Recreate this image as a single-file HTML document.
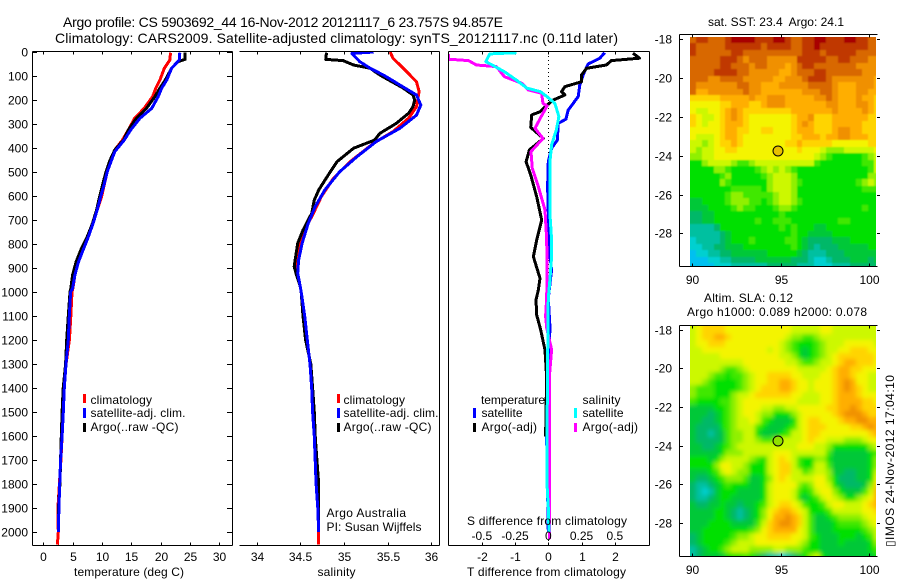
<!DOCTYPE html>
<html lang="en">
<head>
<meta charset="utf-8">
<title>Argo profile chart</title>
<style>
html,body{margin:0;padding:0;background:#fff;width:900px;height:580px;overflow:hidden}
svg{display:block}
text{font-family:"Liberation Sans",sans-serif;font-size:12px;fill:#000}
.ttl{font-size:14px}
</style>
</head>
<body>
<svg id="chart" xmlns="http://www.w3.org/2000/svg" width="900" height="580" viewBox="0 0 900 580">
<defs>
<clipPath id="clip1"><rect x="33" y="52" width="199" height="493"/></clipPath>
<clipPath id="clip2"><rect x="240" y="52" width="199" height="493"/></clipPath>
<clipPath id="clip3"><rect x="449" y="52" width="200" height="493"/></clipPath>
<clipPath id="clipm1"><rect x="690" y="37" width="186" height="230"/></clipPath>
<clipPath id="clipm2"><rect x="690" y="326" width="186" height="231"/></clipPath>
<filter id="soft1"><feGaussianBlur stdDeviation="0.8"/></filter>
<filter id="soft2"><feGaussianBlur stdDeviation="2"/></filter>
</defs>
<rect x="0" y="0" width="900" height="580" fill="#fff"/>

<text class="ttl" x="63" y="27" textLength="440">Argo profile: CS 5903692_44 16-Nov-2012 20121117_6 23.757S 94.857E</text>
<text class="ttl" x="55" y="43" textLength="563">Climatology: CARS2009. Satellite-adjusted climatology: synTS_20121117.nc (0.11d later)</text>

<g clip-path="url(#clipm1)"><g id="map1" filter="url(#soft1)"></g></g>
<g clip-path="url(#clipm2)"><g id="map2" filter="url(#soft2)"></g></g>
<g id="axes" shape-rendering="crispEdges"></g>
<g id="series1" clip-path="url(#clip1)" shape-rendering="crispEdges"></g>
<g id="series2" clip-path="url(#clip2)" shape-rendering="crispEdges"></g>
<line x1="548.5" y1="52" x2="548.5" y2="545" stroke="#000" stroke-width="1" stroke-dasharray="1 3" shape-rendering="crispEdges"/>
<g id="series3" clip-path="url(#clip3)" shape-rendering="crispEdges"></g>
<g id="labels"></g>

<text x="74" y="576" textLength="110">temperature (deg C)</text>
<text x="317.5" y="576" textLength="38">salinity</text>
<text x="467" y="576" textLength="159">T difference from climatology</text>
<text x="467" y="525" textLength="160">S difference from climatology</text>

<g>
<rect x="83" y="394" width="3" height="9" fill="#f00"/>
<text x="90.5" y="404" textLength="61.5">climatology</text>
<rect x="83" y="408" width="3" height="10" fill="#00f"/>
<text x="90.5" y="417" textLength="95">satellite-adj. clim.</text>
<rect x="83" y="423" width="3" height="9" fill="#000"/>
<text x="90.5" y="431" textLength="88">Argo(..raw -QC)</text>
</g>
<g>
<rect x="337" y="394" width="3" height="9" fill="#f00"/>
<text x="343.5" y="404" textLength="61.5">climatology</text>
<rect x="337" y="408" width="3" height="10" fill="#00f"/>
<text x="343.5" y="417" textLength="95">satellite-adj. clim.</text>
<rect x="337" y="423" width="3" height="9" fill="#000"/>
<text x="343.5" y="431" textLength="88">Argo(..raw -QC)</text>
</g>
<text x="326.5" y="517" textLength="79.5">Argo Australia</text>
<text x="326.5" y="531" textLength="95">PI: Susan Wijffels</text>

<g>
<text x="481" y="404" textLength="64">temperature</text>
<rect x="473" y="408" width="3" height="10" fill="#00f"/>
<text x="481.5" y="417" textLength="41">satellite</text>
<rect x="473" y="423" width="3" height="9" fill="#000"/>
<text x="481.5" y="431" textLength="55.5">Argo(-adj)</text>
<text x="582.5" y="404" textLength="38">salinity</text>
<rect x="574" y="408" width="3" height="10" fill="#0ff"/>
<text x="582.5" y="417" textLength="41">satellite</text>
<rect x="574" y="423" width="3" height="9" fill="#f0f"/>
<text x="582.5" y="431" textLength="55.5">Argo(-adj)</text>
</g>

<text x="708" y="26" textLength="136" xml:space="preserve">sat. SST: 23.4  Argo: 24.1</text>
<text x="704" y="302" textLength="89">Altim. SLA: 0.12</text>
<text x="687" y="316" textLength="180">Argo h1000: 0.089 h2000: 0.078</text>
<text transform="translate(894,547) rotate(-90)" textLength="172">▯IMOS 24-Nov-2012 17:04:10</text>
</svg>

<script>
// ---- temperature profile (depth m, deg C) ----
const tempClimDepth = [3,33,68,117,151,186,235,276,325,367,408,450,499,554,603,658,714,769,825,874,929,985,1000,1100,1200,1300,1400,1500,1600,1700,1800,1900,2000,2053];
const tempClim = [21.7,21.6,20.65,19.9,19.2,18.65,17.2,15.6,14.5,13.5,12.2,11.65,10.9,10.4,9.95,9.2,8.5,7.7,6.8,6.0,5.4,5.05,4.9,4.7,4.45,3.87,3.5,3.4,3.2,3.0,2.75,2.5,2.56,2.4];
const tempSatDepth = [3,33,68,117,151,186,235,276,325,367,415,450,499,554,603,658,714,769,825,874,929,985,1000,1100,1200,1300,1400,1500,1600,1700,1800,1900,2000];
const tempSat = [23.3,23.2,21.9,21.05,20.2,19.6,18.5,16.5,14.9,13.8,12.2,11.65,10.9,10.35,9.8,9.2,8.5,7.7,6.8,6.0,5.4,5.0,4.66,4.44,4.27,3.87,3.58,3.41,3.2,2.96,2.8,2.67,2.56];
const tempArgoDepth = [3,31,40,68,117,151,186,235,276,325,367,408,450,499,554,603,658,714,769,825,874,929,985,1000,1100,1200,1300,1400,1500,1600,1700,1800,1900,2000];
const tempArgo = [24.2,24.2,23.0,21.9,20.8,19.9,19.05,17.6,15.9,14.5,13.7,12.2,11.4,10.7,10.1,9.6,9.1,8.4,7.5,6.4,5.6,5.0,4.7,4.55,4.27,4.0,3.8,3.4,3.2,3.07,2.96,2.84,2.6,2.56];

// ---- salinity profile ----
const salClimDepth = [0,26,68,124,165,228,276,332,380,457,526,603,672,742,804,867,922,978,1000,1100,1200,1300,1400,1500,1600,1700,1800,1900,2000,2053];
const salClim = [35.53,35.56,35.68,35.83,35.86,35.83,35.74,35.56,35.34,35.07,34.88,34.74,34.65,34.55,34.49,34.47,34.46,34.5,34.51,34.55,34.58,34.61,34.63,34.64,34.66,34.67,34.68,34.7,34.71,34.71];
const salSatDepth = [0,6,40,68,96,124,151,179,221,263,318,373,436,499,575,644,714,797,867,922,978,1000,1100,1200,1300,1400,1500,1600,1700,1800,1900,2000];
const salSat = [35.34,35.09,35.18,35.3,35.45,35.58,35.7,35.83,35.88,35.83,35.64,35.37,35.15,34.95,34.78,34.67,34.59,34.52,34.48,34.47,34.5,34.51,34.55,34.58,34.61,34.63,34.64,34.66,34.67,34.68,34.7,34.71];
const salArgoDepth = [3,31,36,54,68,96,124,151,179,199,228,255,297,339,367,401,457,512,575,617,672,742,797,867,894,922,978,1000,1100,1200,1300,1400,1500,1600,1700,1800,1900,2000];
const salArgo = [34.8,34.79,34.99,35.11,35.3,35.41,35.55,35.68,35.79,35.81,35.79,35.74,35.6,35.41,35.35,35.11,34.92,34.82,34.71,34.66,34.63,34.53,34.47,34.44,34.43,34.45,34.5,34.51,34.53,34.56,34.62,34.64,34.66,34.67,34.69,34.71,34.71,34.71];

// ---- T and S differences from climatology ----
const dtSatDepth = [3,26,50,89,137,186,242,280,297,367,401,457,561,672,783,853,908,1026,1150,1300,1603,2000];
const dtSat = [1.7,1.55,1.2,1.07,0.95,0.9,0.6,0.53,0.3,0.27,0.1,0,-0.02,0,0,0.05,0.1,0,0.05,0,-0.05,0];
const dtArgoDepth = [5,26,36,54,68,96,124,144,165,179,200,221,249,262,314,360,408,457,512,603,700,783,853,943,992,1033,1096,1158,1242,1353,1603];
const dtArgo = [2.55,2.75,1.9,1.75,1.15,1.0,1.0,0.5,0.4,0.5,0.15,-0.03,-0.25,-0.5,-0.53,-0.15,-0.57,-0.67,-0.53,-0.35,-0.2,-0.35,-0.45,-0.25,-0.3,-0.37,-0.35,-0.23,-0.1,-0.05,-0.08];
const dsSatDepth = [3,8,40,58,82,117,151,165,186,214,269,325,387,457,575,672,783,853,950,1026,1300,1600,1800,1900,2000];
const dsSat = [-0.24,-0.44,-0.47,-0.41,-0.33,-0.24,-0.16,-0.06,-0.01,0.05,0.08,0.06,0.025,0.012,0.012,0.012,0.025,0.025,0.012,0,-0.005,-0.01,-0.01,0,0.005];
const dsArgoDepth = [8,30,36,54,61,103,130,158,172,214,225,276,318,360,415,485,561,658,783,908,1026,1100,1150,1240,1350,1600,1900,2030];
const dsArgo = [-0.75,-0.75,-0.6,-0.54,-0.39,-0.33,-0.2,-0.15,-0.05,-0.04,-0.01,-0.06,-0.1,-0.04,-0.13,-0.12,-0.075,-0.025,-0.012,-0.01,-0.012,-0.02,-0.012,0.025,0.008,0.008,0.008,0.008];

// ---- tick labels ----
const depthTicks = [0,100,200,300,400,500,600,700,800,900,1000,1100,1200,1300,1400,1500,1600,1700,1800,1900,2000];
const tempTicks = [0,5,10,15,20,25,30];
const salTicks = [34,34.5,35,35.5,36];
const dtTicks = [-2,-1,0,1,2];
const dsTicks = [-0.5,-0.25,0,0.25,0.5];
const latTicks = [-18,-20,-22,-24,-26,-28];
const lonTicks = [90,95,100];

// ---- heatmap colour levels (rows north to south, columns west to east) ----
const levelColors = ["#00c0f0","#00d0d0","#00c0a0","#00b868","#00c838","#00e000","#40e800","#90f000","#ccf800","#f4f400","#ffd400","#ffae00","#f09000","#d86800","#c03800","#a80000"];
const sstLevels = [
[13,14,14,13,13,13,14,15,15,15,15,14,14,14,15,15,14,13,13,14,14,15,15,14,14,14,15,15,14,14,13,13],
[14,13,13,13,13,13,14,14,14,14,14,14,13,14,14,14,14,13,13,14,14,15,14,14,14,14,14,14,14,14,13,13],
[14,13,13,13,13,13,13,14,14,13,13,13,13,13,13,13,13,13,13,14,14,14,13,14,14,14,14,14,13,13,13,13],
[13,13,13,13,13,14,14,14,13,12,13,13,13,12,12,12,12,12,14,14,14,14,14,13,13,14,14,13,13,13,12,12],
[13,13,13,13,13,14,14,13,13,13,12,13,13,12,12,12,11,12,13,14,14,13,13,13,13,13,13,13,12,12,12,12],
[13,13,13,13,14,14,14,14,13,13,12,12,12,12,12,11,11,12,13,13,13,14,14,13,13,13,13,13,13,12,12,12],
[13,13,13,12,12,13,13,13,13,12,12,12,12,12,11,11,12,12,12,13,14,14,14,13,12,12,12,12,12,12,12,11],
[13,12,12,12,12,12,12,12,13,13,12,12,11,11,11,12,12,12,12,12,13,13,13,13,12,11,11,11,12,12,12,11],
[13,11,11,12,12,12,12,12,12,13,12,12,11,11,11,11,11,11,11,12,12,12,13,13,12,11,11,11,12,12,11,11],
[10,10,10,10,10,11,11,11,11,11,12,11,11,12,12,12,11,11,11,11,11,12,12,13,12,11,11,11,12,11,11,10],
[9,9,9,9,9,10,10,11,11,11,10,10,11,12,12,12,11,11,11,11,11,11,11,12,12,11,11,11,12,12,11,10],
[9,8,8,9,9,10,11,12,11,10,10,10,10,10,10,10,10,11,11,11,11,11,11,11,12,11,11,11,11,12,11,10],
[10,9,8,8,9,10,11,12,11,10,9,9,9,9,9,9,9,10,11,11,12,10,10,10,11,11,11,11,11,11,10,10],
[10,9,8,9,9,10,11,11,11,10,9,9,9,9,9,9,9,10,11,12,11,10,10,10,11,11,11,11,11,10,10,10],
[9,9,9,9,9,10,11,11,10,10,9,9,10,10,9,9,9,10,11,11,11,10,10,10,11,12,12,11,11,10,10,10],
[9,8,8,8,9,10,11,11,10,9,9,9,9,9,9,9,9,10,10,11,11,11,10,11,11,12,12,11,11,11,10,10],
[8,8,7,8,9,10,10,11,10,9,9,9,9,9,9,9,10,10,11,10,10,10,10,10,9,9,9,9,9,9,10,10],
[8,7,8,8,9,9,10,10,9,9,9,9,9,9,9,9,9,9,10,9,9,9,8,7,7,7,8,8,8,8,8,9],
[7,7,8,8,9,9,9,9,9,9,9,9,9,9,9,9,9,9,9,9,9,8,7,6,5,5,5,5,5,6,7,8],
[5,5,7,8,8,8,8,7,6,6,7,8,8,8,8,8,8,8,8,8,8,6,5,5,5,5,5,5,5,6,6,8],
[5,5,5,5,7,7,6,5,5,5,5,6,7,8,7,8,7,6,5,5,5,5,5,5,5,5,5,5,5,5,6,8],
[5,5,5,5,5,6,7,5,5,5,5,5,6,7,8,8,8,7,5,5,5,5,5,5,5,5,5,5,5,5,7,7],
[5,5,5,5,5,7,6,5,5,5,5,5,5,7,8,8,8,7,6,5,5,5,5,5,5,5,5,5,6,7,8,7],
[5,5,5,5,5,5,5,6,6,6,6,6,5,7,8,8,8,7,5,5,5,5,5,5,5,5,5,5,5,6,6,6],
[5,5,5,5,5,5,6,7,7,6,6,6,6,6,7,8,8,7,5,5,5,5,5,5,5,5,5,5,5,5,5,5],
[4,4,5,5,5,5,6,7,7,7,6,6,5,6,7,8,8,7,6,5,5,5,5,5,5,5,5,5,5,5,5,5],
[4,4,4,5,5,5,5,6,7,6,6,5,5,5,6,7,7,6,5,5,5,5,5,5,5,5,5,5,5,6,5,5],
[3,3,4,4,5,5,5,5,5,5,5,5,5,5,5,6,5,5,5,5,5,5,5,5,5,5,5,5,5,5,5,5],
[3,3,4,4,5,5,5,5,5,5,5,6,5,5,6,6,6,5,5,5,5,5,5,5,5,6,6,5,5,5,5,5],
[2,2,2,2,3,5,5,5,5,5,5,5,5,5,5,6,5,6,5,5,5,4,4,5,5,5,5,5,5,5,5,5],
[2,2,2,2,2,3,4,5,5,5,5,5,5,5,5,5,5,6,5,5,4,4,4,4,5,5,5,5,5,5,5,5],
[1,2,2,2,2,3,4,5,5,5,6,5,5,5,5,5,6,6,5,4,3,3,3,3,4,4,4,5,5,5,5,5],
[1,1,2,2,3,3,4,4,4,5,5,5,5,5,5,5,5,6,5,4,3,2,3,3,3,4,4,4,4,4,5,5],
[0,1,1,2,2,3,3,4,4,4,4,4,4,5,5,5,5,5,4,3,2,2,2,3,3,3,4,4,4,4,4,4],
[0,0,0,1,1,2,2,3,3,3,3,4,4,4,4,4,4,3,3,3,2,1,1,2,3,3,3,4,4,4,3,4],
[0,0,0,0,1,1,1,2,2,2,2,2,2,3,3,3,3,3,2,2,2,1,1,1,2,2,2,3,3,3,3,3]
];
const slaLevels = [
[8,9,10,10,10,10,9,9,9,9,9,9,9,9,9,9,9,8,8,8,8,8,9,9,8,8,8,8,8,8,8,8],
[8,9,10,10,11,11,10,9,9,9,9,9,9,9,9,9,8,7,7,6,6,7,8,8,8,8,8,8,8,8,8,8],
[8,9,9,10,10,10,9,9,9,9,9,9,9,9,9,8,7,6,5,5,5,6,7,8,8,8,9,9,9,9,9,8],
[8,8,9,9,9,9,9,9,9,9,9,9,9,8,9,8,7,6,5,4,5,6,7,8,8,9,9,10,10,10,9,9],
[8,8,8,8,8,9,9,9,9,9,9,9,9,9,9,8,8,7,5,4,5,6,7,8,9,10,10,10,10,10,10,9],
[8,8,8,8,8,8,8,8,8,9,9,9,9,9,9,9,8,8,7,6,6,7,8,8,9,10,11,11,10,10,10,9],
[8,8,8,8,8,7,6,6,7,8,9,9,9,9,9,9,9,9,8,8,8,8,8,9,10,11,11,10,10,9,9,9],
[8,8,8,7,6,6,5,6,6,7,8,9,9,10,10,10,10,9,9,8,8,8,9,9,10,11,11,10,9,9,8,8],
[8,8,7,6,5,5,5,5,6,7,8,9,9,10,10,11,11,10,9,9,8,9,9,9,10,11,12,11,9,9,8,8],
[7,6,6,6,5,5,5,5,6,7,8,9,10,10,10,11,11,10,9,9,8,9,9,9,10,11,12,11,10,9,8,8],
[7,6,6,6,5,5,5,7,8,8,9,10,10,10,10,10,10,9,9,8,8,8,9,9,10,11,11,11,10,9,9,9],
[6,5,5,5,5,6,6,7,8,9,9,9,9,9,9,9,9,9,8,8,8,8,9,9,10,11,11,11,11,10,10,9],
[4,4,4,4,5,5,6,7,8,9,9,9,8,8,7,7,8,8,9,9,9,9,9,10,10,11,11,12,11,10,10,10],
[4,4,4,3,4,5,6,7,8,9,9,8,7,7,5,5,5,7,8,9,9,9,9,9,10,11,12,12,12,11,10,10],
[4,4,3,3,4,5,6,7,8,8,9,8,6,5,4,4,4,5,8,9,10,10,9,9,9,10,11,11,12,12,11,11],
[4,3,3,3,3,5,6,7,8,8,8,6,5,4,4,4,5,6,8,9,10,10,10,9,9,9,9,10,10,11,12,11],
[4,3,3,2,3,4,6,7,7,8,8,5,4,4,4,5,6,8,8,9,10,10,9,9,9,9,9,9,9,9,10,11],
[4,3,3,3,3,4,6,7,7,8,8,7,6,6,7,8,8,8,8,9,10,9,9,8,8,8,7,7,7,8,9,9],
[4,4,3,3,4,5,6,7,8,8,8,8,8,8,8,8,8,8,9,9,9,8,8,7,5,5,5,5,5,5,7,8],
[4,4,4,4,4,5,7,7,7,8,8,8,8,8,9,9,9,8,8,8,8,8,8,6,4,4,4,4,4,4,5,6],
[5,5,5,4,5,7,8,8,8,8,7,6,5,8,9,10,9,8,6,5,5,7,7,5,4,4,4,4,4,4,5,7],
[5,5,5,5,7,9,9,8,8,7,5,5,5,8,9,10,10,8,6,5,5,8,8,6,4,4,4,4,4,4,5,7],
[4,4,4,5,6,8,9,8,7,7,5,5,5,8,9,10,10,8,8,6,7,8,8,7,4,4,3,3,4,4,5,8],
[4,3,3,4,5,6,7,7,7,6,4,4,5,7,9,10,9,8,8,8,8,9,9,7,5,3,3,3,4,4,5,9],
[3,2,2,3,4,5,6,5,5,5,4,4,5,8,9,9,9,9,7,6,7,9,9,8,5,4,3,3,3,4,7,10],
[3,2,1,2,4,5,5,5,4,4,4,4,5,8,9,9,9,8,6,5,6,8,9,9,7,5,4,4,4,6,8,11],
[3,2,2,3,4,5,5,4,4,4,4,4,5,8,9,9,9,8,5,4,5,6,8,9,8,7,5,5,7,8,9,11],
[4,3,3,4,4,5,4,4,3,4,4,5,6,8,9,10,10,9,8,6,5,5,6,8,9,9,8,8,8,9,10,11],
[4,4,4,4,5,5,4,3,2,3,4,5,7,9,10,11,11,10,9,8,5,5,5,6,8,8,8,8,8,9,9,10],
[4,4,4,4,5,5,4,3,2,3,4,5,7,9,11,11,12,11,10,8,6,4,4,5,6,7,7,7,7,8,9,9],
[4,4,4,5,5,5,5,4,4,4,4,6,8,10,11,12,12,11,10,8,6,4,4,4,5,6,6,6,6,7,8,9],
[4,4,5,5,5,5,5,5,5,5,6,7,9,10,11,11,11,11,9,8,6,4,4,4,5,5,5,5,5,6,7,8],
[3,4,5,5,5,5,5,6,7,7,8,9,9,10,10,10,10,9,9,8,6,5,4,4,4,5,5,5,4,5,6,8],
[3,4,5,5,5,5,6,7,8,8,8,9,9,9,9,9,9,9,8,7,5,5,4,4,4,5,4,4,4,4,5,7],
[2,3,4,5,5,6,7,8,8,8,7,7,7,7,8,8,7,7,7,6,5,5,4,4,4,4,4,4,4,4,5,6],
[2,3,4,4,4,4,5,5,5,6,5,4,3,2,2,1,2,3,4,5,7,8,5,4,4,4,4,4,4,4,4,5]
];
const floatLon = [94.857];
const floatLat = [-23.757];

// ---- axis functions ----
const yDepth = d => 52 + d * 0.24;
const xTemp = t => 43.3 + t * 5.86;
const xSal = s => 256.7 + (s - 34) * 87.3;
const xDT = t => 548.3 + t * 33.2;
const xDS = s => 548.3 + s * 133;
const xLon = l => 691.7 + (l - 90) * 17.77;
const yLat1 = l => 39.3 + (-18 - l) * 19.4;
const yLat2 = l => 329.7 + (-18 - l) * 19.33;

const NS = "http://www.w3.org/2000/svg";
function mk(tag, parent, attrs) {
  const e = document.createElementNS(NS, tag);
  for (const k in attrs) e.setAttribute(k, attrs[k]);
  parent.appendChild(e);
  return e;
}
function trace(parent, depths, vals, xf, color, name) {
  const pts = depths.map((d, i) => xf(vals[i]).toFixed(1) + "," + yDepth(d).toFixed(1)).join(" ");
  const el = mk("polyline", parent, {points: pts, fill: "none", stroke: color, "stroke-width": 3, "stroke-linejoin": "round"});
  
  
}
function seg(x1, y1, x2, y2) {
  const el = mk("line", axes, {x1: x1, y1: y1, x2: x2, y2: y2, stroke: "#000", "stroke-width": 1});
  
  
}
function label(x, y, str, anchor) {
  const el = mk("text", labels, {x: x, y: y, "text-anchor": anchor});
  el.textContent = str;
  
  
}

const axes = document.getElementById("axes");
const labels = document.getElementById("labels");

// heatmaps: edge cells bleed past the clip so the soft filter leaves no pale fringe
function heat(groupId, grid, yf) {
  const g = document.getElementById(groupId);
  const lonStart = 89.9, latStart = -17.87, step = 1 / 3, bleed = 12;
  grid.forEach((row, j) => row.forEach((v, i) => {
    let x0 = Math.round(xLon(lonStart + i * step)), x1 = Math.round(xLon(lonStart + (i + 1) * step));
    let y0 = Math.round(yf(latStart - j * step)), y1 = Math.round(yf(latStart - (j + 1) * step));
    if (i === 0) x0 -= bleed;
    if (i === row.length - 1) x1 += bleed;
    if (j === 0) y0 -= bleed;
    if (j === grid.length - 1) y1 += bleed;
    const r = mk("rect", g, {x: x0, y: y0, width: x1 - x0, height: y1 - y0, fill: levelColors[v]});
    
    
  }));
}
heat("map1", sstLevels, yLat1);
heat("map2", slaLevels, yLat2);

// series
const s1 = document.getElementById("series1");
trace(s1, tempClimDepth, tempClim, xTemp, "#f00", "temperature-climatology-line");
trace(s1, tempArgoDepth, tempArgo, xTemp, "#000", "temperature-argo-line");
trace(s1, tempSatDepth, tempSat, xTemp, "#00f", "temperature-satellite-line");
const s2 = document.getElementById("series2");
trace(s2, salClimDepth, salClim, xSal, "#f00", "salinity-climatology-line");
trace(s2, salArgoDepth, salArgo, xSal, "#000", "salinity-argo-line");
trace(s2, salSatDepth, salSat, xSal, "#00f", "salinity-satellite-line");
const s3 = document.getElementById("series3");
trace(s3, dtSatDepth, dtSat, xDT, "#00f", "t-diff-satellite-line");
trace(s3, dtArgoDepth, dtArgo, xDT, "#000", "t-diff-argo-line");
trace(s3, dsArgoDepth, dsArgo, xDS, "#f0f", "s-diff-argo-line");
trace(s3, dsSatDepth, dsSat, xDS, "#0ff", "s-diff-satellite-line");

// profile axes
const T = 51.5, B = 545.5;
seg(32.5, T, 232.5, T); seg(32.5, B, 232.5, B); seg(32.5, T, 32.5, B); seg(232.5, T, 232.5, B);
seg(239.5, T, 439.5, T); seg(239.5, B, 439.5, B); seg(439.5, T, 439.5, B);
seg(448.5, T, 649.5, T); seg(448.5, B, 649.5, B); seg(448.5, T, 448.5, B); seg(649.5, T, 649.5, B);

depthTicks.forEach(d => {
  const y = Math.round(yDepth(d)) + 0.5;
  seg(32.5, y, 37, y);
  seg(227, y, 232.5, y);
  label(28, y + 4, String(d), "end");
});
tempTicks.forEach(t => {
  const x = Math.round(xTemp(t)) + 0.5;
  seg(x, T, x, T + 3); seg(x, B, x, B - 3);
  label(x, 561, String(t), "middle");
});
salTicks.forEach(s => {
  const x = Math.round(xSal(s)) + 0.5;
  seg(x, T, x, T + 3); seg(x, B, x, B - 3);
  label(x, 561, String(s), "middle");
});
dtTicks.forEach(t => {
  const x = Math.round(xDT(t)) + 0.5;
  seg(x, T, x, T + 3); seg(x, B, x, B - 3);
  label(x, 561, String(t), "middle");
});
dsTicks.forEach(s => {
  label(xDS(s), 540, String(s), "middle");
});

// map axes
function mapAxes(top, bottom, yf, xLabelY) {
  seg(679.5, top, 877.5, top); seg(679.5, bottom, 877.5, bottom); seg(679.5, top, 679.5, bottom);
  latTicks.forEach(l => {
    const y = Math.round(yf(l)) + 0.5;
    seg(679.5, y, 683, y);
    seg(877, y, 880, y);
    label(672, y + 4, String(l), "end");
  });
  lonTicks.forEach(l => {
    const x = Math.round(xLon(l)) + 0.5;
    seg(x, top, x, top + 3); seg(x, bottom, x, bottom - 3);
    label(x, xLabelY, String(l), "middle");
  });
}
mapAxes(34.5, 266.5, yLat1, 284);
mapAxes(325.5, 556.5, yLat2, 574);

// float position markers
const svg = document.getElementById("chart");
const m1 = mk("circle", svg, {cx: xLon(floatLon[0]), cy: yLat1(floatLat[0]), r: 5, fill: "#e8c000", stroke: "#000", "stroke-width": 1});


const m2 = mk("circle", svg, {cx: xLon(floatLon[0]), cy: yLat2(floatLat[0]), r: 5, fill: "#90e000", stroke: "#000", "stroke-width": 1});


</script>
</body>
</html>
